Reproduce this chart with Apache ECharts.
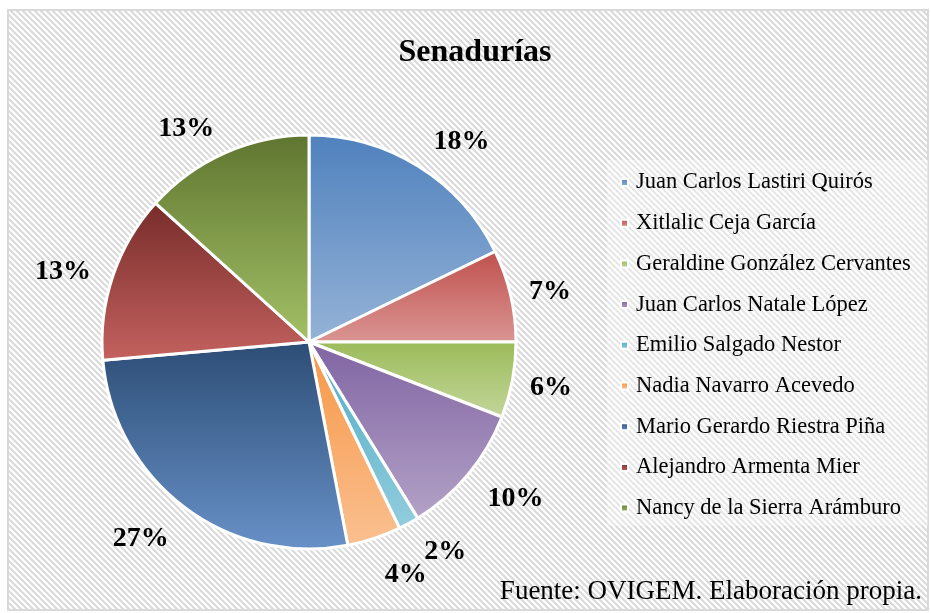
<!DOCTYPE html>
<html>
<head>
<meta charset="utf-8">
<script src="https://cdn.jsdelivr.net/npm/echarts@6/dist/echarts.min.js"></script>
<style>
  html, body { margin: 0; padding: 0; background: #fff; }
  #chart { width: 931px; height: 613px; }
</style>
</head>
<body>
<div id="chart"></div>
<script>
// datos
var candidatos = ['Juan Carlos Lastiri Quirós', 'Xitlalic Ceja García', 'Geraldine González Cervantes',
  'Juan Carlos Natale López', 'Emilio Salgado Nestor', 'Nadia Navarro Acevedo',
  'Mario Gerardo Riestra Piña', 'Alejandro Armenta Mier', 'Nancy de la Sierra Arámburo'];
var porcentajes = [17.8, 7.2, 5.9, 10.3, 1.6, 4.2, 26.6, 13.1, 13.3];
// colores: arriba / abajo del degradado
var colorArriba = ['#4F81BD', '#C0504D', '#9BBB59', '#8064A2', '#4BACC6', '#F79646', '#2C4D75', '#772C2A', '#5F7530'];
var colorAbajo  = ['#95B3D7', '#DA9694', '#C3D69B', '#B3A2C7', '#93CDDD', '#FAC090', '#6891C8', '#C4625F', '#A3C166'];
// ajuste fino de etiquetas (px) para imitar la colocación de Excel
var ajusteEtiqueta = [[-3, -4], [-10, 2], [-11, 3], [-4, 9], [-1, 7], [-2, 14], [4, 12], [6, 3], [4, -2]];

// fondo rayado
var rayas = document.createElement('canvas');
rayas.width = 6; rayas.height = 6;
var ctx = rayas.getContext('2d');
ctx.fillStyle = '#fff';
ctx.fillRect(0, 0, 6, 6);
ctx.strokeStyle = '#d9d9d9';
ctx.lineWidth = 2;
ctx.beginPath();
ctx.moveTo(-1, -1); ctx.lineTo(7, 7);
ctx.moveTo(-4, 2); ctx.lineTo(4, 10);
ctx.moveTo(2, -4); ctx.lineTo(10, 4);
ctx.stroke();

var datos = candidatos.map(function (n, i) {
  return {
    name: n,
    value: porcentajes[i],
    itemStyle: {
      color: new echarts.graphic.LinearGradient(0, 0, 0, 1, [
        { offset: 0, color: colorArriba[i] },
        { offset: 1, color: colorAbajo[i] }
      ])
    }
  };
});

var chart = echarts.init(document.getElementById('chart'));
chart.setOption({
  animation: false,
  graphic: [
    { type: 'rect', z: -10, shape: { x: 8, y: 10, width: 920, height: 600 },
      style: { fill: { image: rayas, repeat: 'repeat' }, stroke: '#d9d9d9', lineWidth: 2 } },
    { type: 'rect', z: -9, shape: { x: 607, y: 160, width: 321, height: 366 },
      style: { fill: 'rgba(255,255,255,0.35)' } },
    { type: 'text', right: 9, bottom: 8,
      style: { text: 'Fuente: OVIGEM. Elaboración propia.', fill: '#000',
        font: '27px "Liberation Serif", "Times New Roman", serif' } }
  ],
  title: {
    text: 'Senadurías',
    left: 470,
    top: 32,
    textAlign: 'center',
    textStyle: { fontFamily: 'Liberation Serif', fontWeight: 'bold', fontSize: 32, color: '#000' }
  },
  legend: {
    orient: 'vertical',
    left: 615,
    top: 166,
    itemWidth: 7,
    itemHeight: 7,
    itemGap: 17.7,
    icon: 'rect',
    data: candidatos,
    textStyle: { fontFamily: 'Liberation Serif', fontSize: 22.5, color: '#000', padding: [0, 0, 0, 3] }
  },
  series: [{
    type: 'pie',
    center: [309, 342],
    radius: 207,
    startAngle: 90,
    clockwise: true,
    avoidLabelOverlap: false,
    data: datos,
    itemStyle: { borderColor: '#fff', borderWidth: 3 },
    label: {
      position: 'outside',
      formatter: function (p) { return Math.round(p.value) + '%'; },
      fontFamily: 'Liberation Serif',
      fontWeight: 'bold',
      fontSize: 28,
      color: '#000'
    },
    labelLine: { show: false, length: 24, length2: 0 },
    labelLayout: function (p) {
      var a = ajusteEtiqueta[p.dataIndex];
      return { hideOverlap: false, dx: a[0], dy: a[1] };
    },
    emphasis: { disabled: true }
  }]
});
</script>
</body>
</html>
